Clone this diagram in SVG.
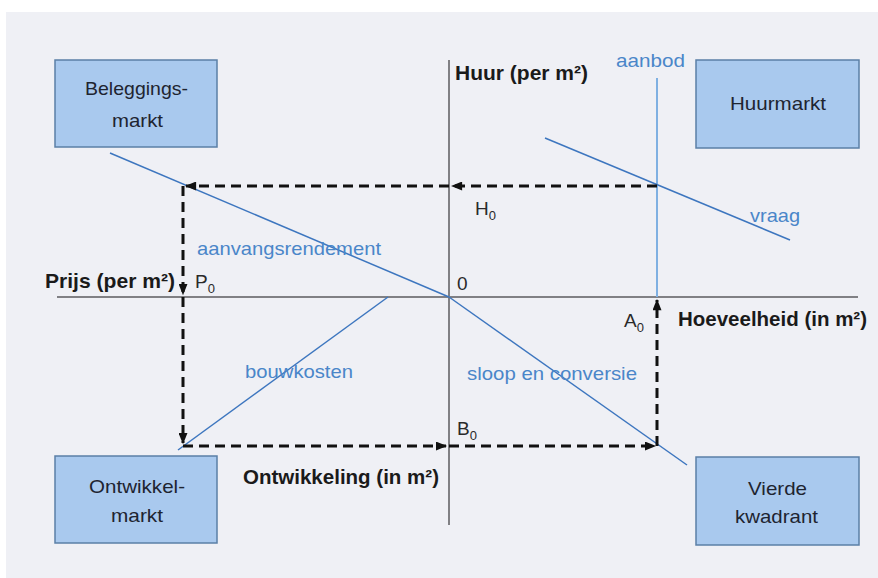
<svg xmlns="http://www.w3.org/2000/svg" width="878" height="578" viewBox="0 0 878 578">
  <defs>
    <style>
      .box { fill: #a9c9ee; stroke: #5b7fa6; stroke-width: 1.5; }
      .boxtxt { font-family: "Liberation Sans Narrow", "Liberation Sans", Arial, sans-serif; font-size: 19px; fill: #1e2430; text-anchor: start; }
      .axis { stroke: #808084; stroke-width: 2; fill: none; }
      .axtxt { font-family: "Liberation Sans Narrow", "Liberation Sans", Arial, sans-serif; font-size: 21px; font-weight: bold; fill: #1a1a1a; }
      .curve { stroke: #3d76bf; stroke-width: 1.5; fill: none; }
      .supply { stroke: #7fb0e2; stroke-width: 2; fill: none; }
      .blue { font-family: "Liberation Sans Narrow", "Liberation Sans", Arial, sans-serif; font-size: 19px; fill: #4a86c9; }
      .lbl { font-family: "Liberation Sans Narrow", "Liberation Sans", Arial, sans-serif; font-size: 19px; fill: #2a2a2a; }
      .dash { stroke: #111; stroke-width: 3; stroke-dasharray: 10 6; fill: none; marker-end: url(#head); }
    </style>
    <marker id="head" viewBox="0 0 10 8" refX="9" refY="4" markerWidth="12" markerHeight="9" markerUnits="userSpaceOnUse" orient="auto">
      <path d="M0,0 L10,4 L0,8 Z" fill="#111"/>
    </marker>
  </defs>

  <!-- page -->
  <rect x="0" y="0" width="878" height="578" fill="#ffffff"/>
  <rect x="6" y="12" width="872" height="566" fill="#eff0f5"/>

  <!-- axes -->
  <g id="axes">
    <line class="axis" x1="449" y1="60" x2="449" y2="525"/>
    <line class="axis" x1="57" y1="297" x2="858" y2="297"/>
    <text class="axtxt" x="455" y="80" textLength="133" lengthAdjust="spacingAndGlyphs">Huur (per m²)</text>
    <text class="axtxt" x="45" y="288" textLength="130" lengthAdjust="spacingAndGlyphs">Prijs (per m²)</text>
    <text class="axtxt" x="678" y="326" textLength="189" lengthAdjust="spacingAndGlyphs">Hoeveelheid (in m²)</text>
    <text class="axtxt" x="243" y="484" textLength="196" lengthAdjust="spacingAndGlyphs">Ontwikkeling (in m²)</text>
    <text class="lbl" x="457" y="290">0</text>
  </g>

  <!-- market curves -->
  <g id="curves">
    <line class="supply" x1="657" y1="78" x2="657" y2="297"/>
    <line class="curve" x1="545" y1="138" x2="790" y2="240"/>
    <line class="curve" x1="110" y1="153" x2="449" y2="297"/>
    <line class="curve" x1="388" y1="297" x2="178" y2="450"/>
    <line class="curve" x1="449" y1="297" x2="687" y2="465"/>
    <text class="blue" x="616" y="67" textLength="69" lengthAdjust="spacingAndGlyphs">aanbod</text>
    <text class="blue" x="750" y="222" textLength="50" lengthAdjust="spacingAndGlyphs">vraag</text>
    <text class="blue" x="197" y="255" textLength="184" lengthAdjust="spacingAndGlyphs">aanvangsrendement</text>
    <text class="blue" x="245" y="378" textLength="108" lengthAdjust="spacingAndGlyphs">bouwkosten</text>
    <text class="blue" x="467" y="380" textLength="170" lengthAdjust="spacingAndGlyphs">sloop en conversie</text>
  </g>

  <!-- equilibrium cycle -->
  <g id="connectors">
    <line class="dash" x1="657" y1="186" x2="452" y2="186"/>
    <line class="dash" x1="449" y1="186" x2="186" y2="186"/>
    <line class="dash" x1="183" y1="186" x2="183" y2="294"/>
    <line class="dash" x1="183" y1="297" x2="183" y2="443"/>
    <line class="dash" x1="183" y1="446" x2="446" y2="446"/>
    <line class="dash" x1="449" y1="446" x2="655" y2="446"/>
    <line class="dash" x1="657" y1="446" x2="657" y2="300"/>
  </g>

  <!-- equilibrium labels -->
  <g id="labels">
    <text class="lbl" x="475" y="215">H<tspan font-size="13" dy="5">0</tspan></text>
    <text class="lbl" x="195" y="288">P<tspan font-size="13" dy="5">0</tspan></text>
    <text class="lbl" x="624" y="327">A<tspan font-size="13" dy="5">0</tspan></text>
    <text class="lbl" x="457" y="435">B<tspan font-size="13" dy="5">0</tspan></text>
  </g>

  <!-- markets -->
  <g id="beleggingsmarkt">
    <rect class="box" x="55" y="60" width="162" height="87"/>
    <text class="boxtxt" x="85" y="95" textLength="103" lengthAdjust="spacingAndGlyphs">Beleggings-</text>
    <text class="boxtxt" x="112" y="127" textLength="51" lengthAdjust="spacingAndGlyphs">markt</text>
  </g>
  <g id="huurmarkt">
    <rect class="box" x="696" y="60" width="163" height="88"/>
    <text class="boxtxt" x="730" y="110" textLength="96" lengthAdjust="spacingAndGlyphs">Huurmarkt</text>
  </g>
  <g id="ontwikkelmarkt">
    <rect class="box" x="55" y="456" width="162" height="87"/>
    <text class="boxtxt" x="89" y="493" textLength="96" lengthAdjust="spacingAndGlyphs">Ontwikkel-</text>
    <text class="boxtxt" x="111" y="522" textLength="52" lengthAdjust="spacingAndGlyphs">markt</text>
  </g>
  <g id="vierde-kwadrant">
    <rect class="box" x="696" y="457" width="163" height="88"/>
    <text class="boxtxt" x="748" y="495" textLength="59" lengthAdjust="spacingAndGlyphs">Vierde</text>
    <text class="boxtxt" x="735" y="523" textLength="83" lengthAdjust="spacingAndGlyphs">kwadrant</text>
  </g>
</svg>
